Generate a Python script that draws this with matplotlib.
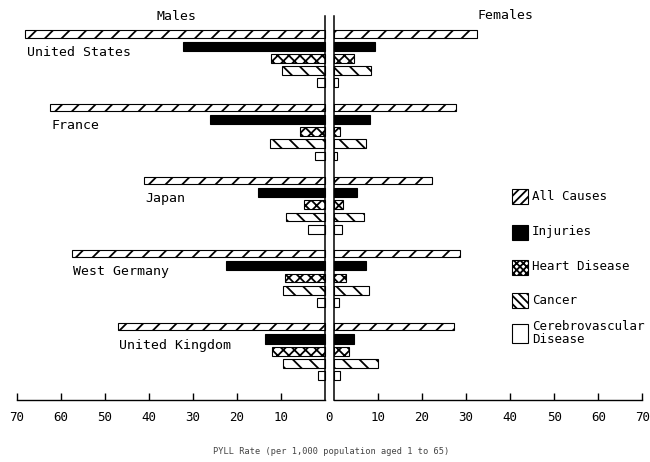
import numpy as np
import matplotlib
matplotlib.use("Agg")
import matplotlib.pyplot as plt
from matplotlib.patches import Rectangle

plt.rcParams['font.family'] = ['DejaVu Sans Mono']
plt.rcParams['hatch.linewidth'] = 1.3

# PYLL rates per 1,000
countries = ["United States", "France", "Japan", "West Germany", "United Kingdom"]
causes = ["All Causes", "Injuries", "Heart Disease", "Cancer", "Cerebrovascular\nDisease"]

male_all = [68.0, 62.4, 41.0, 57.4, 47.0]
male_injuries = [32.3, 26.1, 15.1, 22.4, 13.7]
male_heart = [12.3, 5.6, 4.7, 9.1, 12.0]
male_cancer = [9.7, 12.4, 8.8, 9.6, 9.6]
male_cerebro = [1.8, 2.2, 3.9, 1.9, 1.7]

female_all = [32.4, 27.8, 22.3, 28.6, 27.3]
female_injuries = [9.4, 8.3, 5.2, 7.3, 4.5]
female_heart = [4.5, 1.4, 2.0, 2.8, 3.5]
female_cancer = [8.5, 7.2, 6.9, 7.9, 10.0]
female_cerebro = [1.0, 0.8, 1.8, 1.1, 1.4]

tick_values = [10, 20, 30, 40, 50, 60, 70]

males = [male_all, male_injuries, male_heart, male_cancer, male_cerebro]
females = [female_all, female_injuries, female_heart, female_cancer, female_cerebro]

# styles per cause
faces = ["white", "black", "white", "white", "white"]
hatches = ["//", None, "xxx", "\\\\", None]
heights = [0.58, 0.74, 0.72, 0.72, 0.72]
legend_hatches = ["////", None, "xxxxx", "\\\\\\\\", None]

W, H = 650, 462
GAP = 1.0          # half gap between the two zero lines
GROUP = 6          # slots per country
PXU = 4.408        # pixels per data unit

left_px = 16.5 - PXU
fig = plt.figure(figsize=(6.5, 4.62), dpi=100)
ax = fig.add_axes([left_px / W, 62 / H, 144 * PXU / W, 384 / H])
ax.set_xlim(-72, 72)
ax.set_ylim(30.0, -1.475)

for k in range(len(causes)):
    ys = np.arange(len(countries)) * GROUP + k
    ax.barh(ys, -np.array(males[k]), left=-GAP, height=heights[k],
            color=faces[k], edgecolor="black", hatch=hatches[k], linewidth=0.8)
    ax.barh(ys, np.array(females[k]), left=GAP, height=heights[k],
            color=faces[k], edgecolor="black", hatch=hatches[k], linewidth=0.8)

# country names under the all-causes bar
for i, name in enumerate(countries):
    ax.text(-GAP - male_all[i] + 0.3, i * GROUP + 1.5, name,
            ha="left", va="center", fontsize=9.5)

# zero lines and broken base axis
ax.plot([-GAP, -GAP], [30, -1.475], color="black", lw=1.1, clip_on=False)
ax.plot([GAP, GAP], [30, -1.475], color="black", lw=1.1, clip_on=False)
ax.plot([-71, -GAP], [30, 30], color="black", lw=1.0, clip_on=False)
ax.plot([GAP, 71], [30, 30], color="black", lw=1.0, clip_on=False)

for s in ax.spines.values():
    s.set_visible(False)
ax.set_yticks([])
xt = [-(v + GAP) for v in tick_values[::-1]] + [0] + [v + GAP for v in tick_values]
xl = [str(v) for v in tick_values[::-1]] + ["0"] + [str(v) for v in tick_values]
ax.set_xticks(xt)
ax.set_xticklabels(xl, fontsize=9)
ax.tick_params(axis="x", direction="in", length=5, width=1.0, pad=8)
ax.xaxis.get_major_ticks()[7].tick1line.set_visible(False)

ax.text(-34.8, -1.42, "Males", ha="center", va="center", fontsize=9.5)
ax.text(40.0, -1.5, "Females", ha="center", va="center", fontsize=9.5)

fig.text(331 / W, 1 - 451 / H, "PYLL Rate (per 1,000 population aged 1 to 65)",
         ha="center", va="center", fontsize=6.2, color="#444444")

# legend drawn in figure pixels
leg_y = [196, 232, 267, 300, 333]
leg_h = [15, 15, 15, 15, 19]
for k, lab in enumerate(causes):
    h = leg_h[k]
    fig.add_artist(Rectangle((512 / W, 1 - (leg_y[k] + h / 2) / H), 16 / W, h / H,
                             transform=fig.transFigure, facecolor=faces[k],
                             edgecolor="black", hatch=legend_hatches[k], linewidth=0.8))
    fig.text(532 / W, 1 - leg_y[k] / H, lab, ha="left", va="center",
             fontsize=9, linespacing=1.05)

fig.savefig("out.png", dpi=100, facecolor="white")
